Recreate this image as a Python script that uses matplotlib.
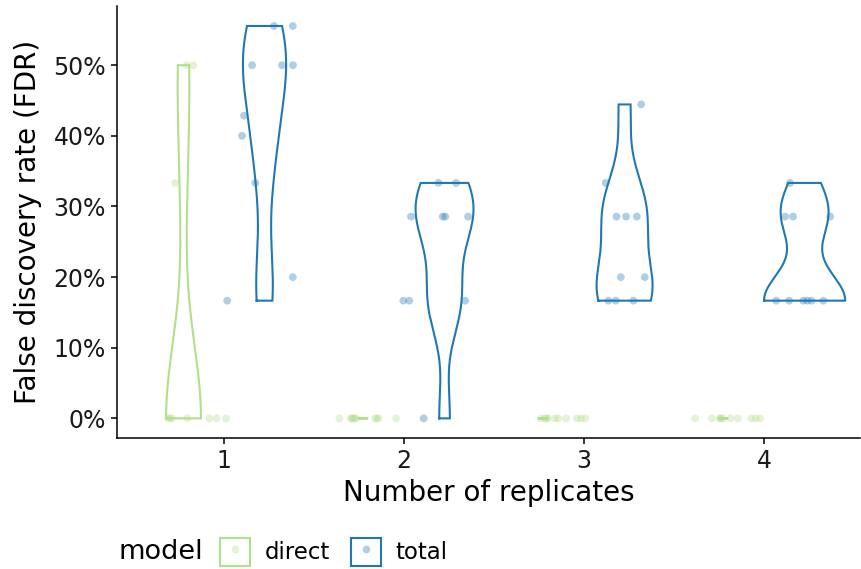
import numpy as np
import matplotlib
matplotlib.use("Agg")
import matplotlib.pyplot as plt
from matplotlib.patches import Patch
from matplotlib.lines import Line2D
from matplotlib.legend_handler import HandlerTuple

plt.rcParams['font.family'] = ['DejaVu Sans']

# ---------------- data ----------------
replicates = [1, 2, 3, 4]
models = ["direct", "total"]
colors = {"direct": "#b2df8a", "total": "#1f78b4"}

# FDR values per replicate group
direct_y = {
    1: [0.5, 0.5, 1/3, 0, 0, 0, 0, 0, 0, 0],
    2: [0, 0, 0, 0, 0, 0, 0, 0, 0, 0],
    3: [0, 0, 0, 0, 0, 0, 0, 0, 0, 0],
    4: [0, 0, 0, 0, 0, 0, 0, 0, 0, 0],
}
direct_dx = {
    1: [-0.207, -0.171, -0.271, -0.307, -0.300, -0.204, -0.082, -0.041, 0.011, -0.29],
    2: [-0.359, -0.296, -0.289, -0.282, -0.267, -0.161, -0.150, -0.143, -0.044, -0.275],
    3: [-0.239, -0.217, -0.200, -0.161, -0.144, -0.100, -0.039, -0.017, 0.006, -0.21],
    4: [-0.383, -0.291, -0.248, -0.230, -0.187, -0.146, -0.071, -0.047, -0.022, -0.24],
}
total_y = {
    1: [5/9, 5/9, 0.5, 0.5, 0.5, 3/7, 0.4, 1/3, 0.2, 1/6],
    2: [1/3, 1/3, 2/7, 2/7, 2/7, 2/7, 1/6, 1/6, 1/6, 0],
    3: [4/9, 1/3, 2/7, 2/7, 2/7, 0.2, 0.2, 1/6, 1/6, 1/6],
    4: [1/3, 2/7, 2/7, 2/7, 1/6, 1/6, 1/6, 1/6, 1/6, 1/6],
}
total_dx = {
    1: [0.278, 0.382, 0.156, 0.322, 0.383, 0.111, 0.100, 0.174, 0.382, 0.018],
    2: [0.191, 0.289, 0.039, 0.215, 0.229, 0.356, -0.004, 0.029, 0.339, 0.109],
    3: [0.317, 0.120, 0.180, 0.233, 0.293, 0.204, 0.337, 0.135, 0.176, 0.274],
    4: [0.144, 0.117, 0.161, 0.367, 0.067, 0.139, 0.218, 0.240, 0.263, 0.329],
}
yvals = {"direct": direct_y, "total": total_y}
xjit = {"direct": direct_dx, "total": total_dx}
yticks = [0, 0.1, 0.2, 0.3, 0.4, 0.5]


# ---------------- helpers ----------------
def bw_nrd0(x):
    x = np.asarray(x, float)
    hi = x.std(ddof=1)
    q75, q25 = np.percentile(x, [75, 25])
    lo = min(hi, (q75 - q25) / 1.34)
    if not lo:
        lo = hi or abs(x[0]) or 1.0
    return 0.9 * lo * len(x) ** (-0.2)


def kde(x):
    x = np.asarray(x, float)
    bw = bw_nrd0(x)
    grid = np.linspace(x.min(), x.max(), 512)
    d = np.exp(-0.5 * ((grid[:, None] - x[None, :]) / bw) ** 2).sum(1)
    d /= (len(x) * bw * np.sqrt(2 * np.pi))
    return grid, d


dens = {}
for m in models:
    for r in replicates:
        dens[(m, r)] = kde(yvals[m][r])
dmax = max(d.max() for _, d in dens.values())

offset = {"direct": -0.225, "total": 0.225}
vwidth = 0.45

# ---------------- plot ----------------
fig = plt.figure(figsize=(8.61, 5.69), dpi=100)
ax = fig.add_axes([0.1359, 0.2302, 0.863, 0.7586])

for m in models:
    for r in replicates:
        g, d = dens[(m, r)]
        hw = d / dmax * vwidth / 2
        c = r + offset[m]
        xs = np.concatenate([c - hw, (c + hw)[::-1], [c - hw[0]]])
        ys = np.concatenate([g, g[::-1], [g[0]]])
        ax.plot(xs, ys, color=colors[m], lw=1.5, solid_joinstyle='miter', zorder=2)

for m in models:
    for r in replicates:
        xs = r + np.asarray(xjit[m][r])
        ax.scatter(xs, yvals[m][r], s=32, color=colors[m], alpha=0.35,
                   edgecolors='none', zorder=3)

ax.set_xlim(0.4056, 4.533)
ax.set_ylim(-0.0278, 0.5833)
ax.set_xticks(replicates)
ax.set_xticklabels([str(r) for r in replicates])
ax.set_yticks(yticks)
ax.set_yticklabels([f"{v*100:.0f}%" for v in yticks])
for s in ["top", "right"]:
    ax.spines[s].set_visible(False)
for s in ["left", "bottom"]:
    ax.spines[s].set_linewidth(1.1)
ax.tick_params(axis='both', length=4, width=1.1, labelsize=17, colors='black', pad=4)
ax.tick_params(axis='both', labelcolor='#1a1a1a')
ax.set_xlabel("Number of replicates", fontsize=20, labelpad=4)
ax.set_ylabel("False discovery rate (FDR)", fontsize=20, labelpad=8)

# legend
handles = []
for m in models:
    handles.append((Patch(facecolor='white', edgecolor=colors[m], lw=1.5),
                    Line2D([], [], marker='o', color=colors[m], alpha=0.35,
                           linestyle='', markersize=5.5, markeredgewidth=0)))
fig.text(0.138, 0.03, "model", fontsize=19.5, va='center', ha='left')
leg = fig.legend(handles, models, handler_map={tuple: HandlerTuple(ndivide=1, pad=0)},
                 loc='center left', bbox_to_anchor=(0.256, 0.03), ncol=2, frameon=False,
                 fontsize=16.5, handlelength=1.3, handleheight=1.55, handletextpad=0.65,
                 columnspacing=0.9, borderaxespad=0, borderpad=0)

fig.savefig("out.png", dpi=100)
